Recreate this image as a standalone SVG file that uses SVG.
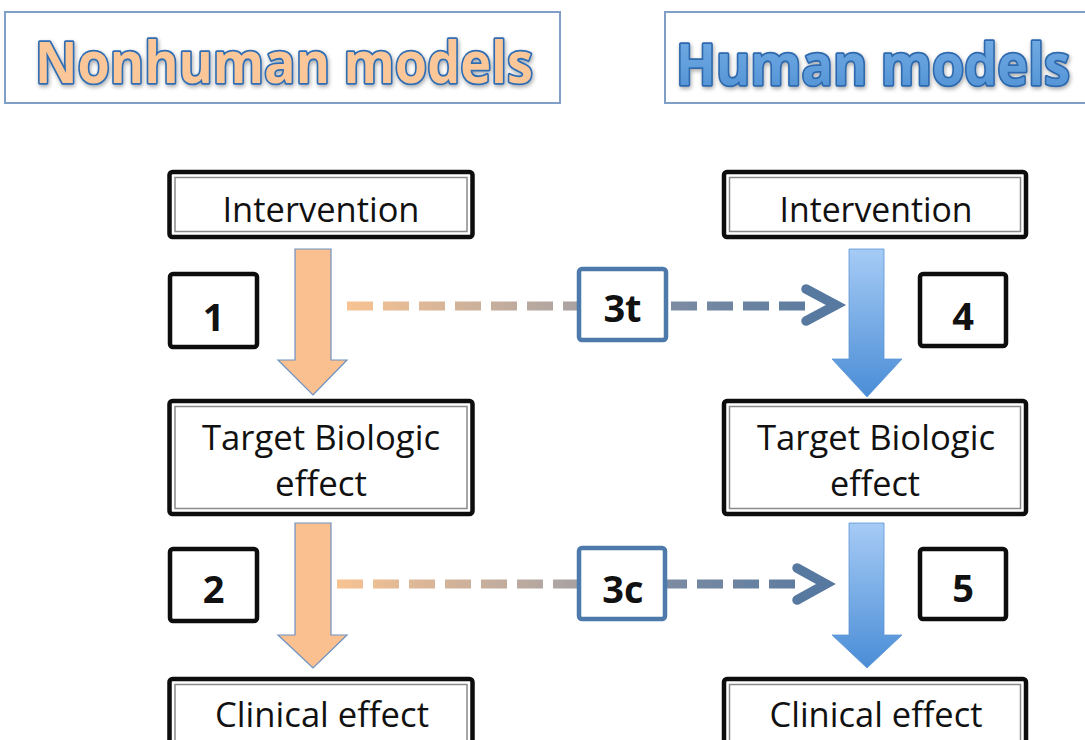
<svg xmlns="http://www.w3.org/2000/svg" width="1085" height="740" viewBox="0 0 1085 740">
  <style>
    .title-box { fill: #ffffff; stroke: #7f9fc8; stroke-width: 2; }
    .title { font-family: "Open Sans", "Liberation Sans", sans-serif; font-weight: 700; font-size: 57px; stroke-width: 3.6; paint-order: stroke; stroke-linejoin: round; }
    .node-outer { fill: #ffffff; stroke: #0d0d0d; stroke-width: 4.5; }
    .node-inner { fill: none; stroke: #8a8a8a; stroke-width: 1.5; }
    .label { font-family: "Open Sans", "Liberation Sans", sans-serif; font-size: 34px; fill: #111111; text-anchor: middle; }
    .num-box { fill: #ffffff; stroke: #0d0d0d; stroke-width: 4.5; }
    .num { font-family: "Open Sans", "Liberation Sans", sans-serif; font-weight: 700; font-size: 38px; fill: #111111; text-anchor: middle; }
    .link-box { fill: #ffffff; stroke: #4d79ab; stroke-width: 4.5; }
    .arrow-nh { fill: #fac090; stroke: #6d91c2; stroke-width: 1.2; }
    .arrow-h { fill: url(#blueShaft); stroke: #5d95d6; stroke-width: 0.8; }
    .dash { fill: none; stroke-width: 9; stroke-dasharray: 26 10; }
    .chevron { fill: none; stroke: #57799f; stroke-width: 9.5; stroke-linecap: round; stroke-linejoin: miter; }
  </style>
  <defs>
    <linearGradient id="blueShaft" x1="0" y1="0" x2="0" y2="1">
      <stop offset="0" stop-color="#a6cbf5"/>
      <stop offset="1" stop-color="#4a8dd6"/>
    </linearGradient>
    <linearGradient id="humanFill" x1="0" y1="0" x2="0" y2="1">
      <stop offset="0" stop-color="#79b0e6"/>
      <stop offset="1" stop-color="#4d8fd3"/>
    </linearGradient>
    <linearGradient id="dashTop" gradientUnits="userSpaceOnUse" x1="347" y1="0" x2="830" y2="0">
      <stop offset="0" stop-color="#f8c392"/>
      <stop offset="0.48" stop-color="#a9a2a2"/>
      <stop offset="0.68" stop-color="#7b8ba2"/>
      <stop offset="1" stop-color="#58799f"/>
    </linearGradient>
    <linearGradient id="dashBottom" gradientUnits="userSpaceOnUse" x1="337" y1="0" x2="825" y2="0">
      <stop offset="0" stop-color="#f8c392"/>
      <stop offset="0.49" stop-color="#a9a2a2"/>
      <stop offset="0.68" stop-color="#7b8ba2"/>
      <stop offset="1" stop-color="#58799f"/>
    </linearGradient>
    <filter id="soft" x="-5%" y="-20%" width="110%" height="140%">
      <feGaussianBlur in="SourceAlpha" stdDeviation="2"/>
      <feOffset dx="1" dy="2" result="b"/>
      <feComponentTransfer><feFuncA type="linear" slope="0.35"/></feComponentTransfer>
      <feMerge><feMergeNode/><feMergeNode in="SourceGraphic"/></feMerge>
    </filter>
  </defs>

  <!-- column headings -->
  <g id="nonhuman-heading">
    <rect class="title-box" x="5" y="12" width="555" height="91"/>
    <text class="title" x="35" y="83" textLength="498" lengthAdjust="spacingAndGlyphs" fill="#fbc798" stroke="#2f6db3" filter="url(#soft)">Nonhuman models</text>
  </g>
  <g id="human-heading">
    <rect class="title-box" x="665" y="12" width="430" height="91"/>
    <text class="title" x="676" y="85" textLength="394" lengthAdjust="spacingAndGlyphs" fill="url(#humanFill)" stroke="#2e69ad" filter="url(#soft)">Human models</text>
  </g>

  <!-- cross-model translation links -->
  <g id="connectors">
    <line class="dash" x1="347" y1="306" x2="808" y2="306" stroke="url(#dashTop)"/>
    <polyline class="chevron" points="806,289 836,305 806,321"/>
    <line class="dash" x1="337" y1="584" x2="800" y2="584" stroke="url(#dashBottom)"/>
    <polyline class="chevron" points="797,568 826,584 797,600"/>

    <!-- nonhuman pathway arrows -->
    <polygon class="arrow-nh" points="295,249 331,249 331,360 347,360 313,395 278,360 295,360"/>
    <polygon class="arrow-nh" points="295,523 331,523 331,635 347,635 313,668 278,635 295,635"/>
    <!-- human pathway arrows -->
    <polygon class="arrow-h" points="849,249 884,249 884,359 902,359 867,397 832,359 849,359"/>
    <polygon class="arrow-h" points="849,523 884,523 884,635 902,635 867,668 832,635 849,635"/>
  </g>

  <!-- nonhuman column -->
  <g id="nh-intervention">
    <rect class="node-outer" x="169.5" y="172" width="303" height="65" rx="3"/>
    <rect class="node-inner" x="175" y="177.5" width="292" height="54"/>
    <text class="label" x="321" y="222" textLength="197" lengthAdjust="spacingAndGlyphs">Intervention</text>
  </g>
  <g id="nh-target">
    <rect class="node-outer" x="169.5" y="401" width="303" height="113" rx="3"/>
    <rect class="node-inner" x="175" y="406.5" width="292" height="102"/>
    <text class="label" x="321" y="450" textLength="238" lengthAdjust="spacingAndGlyphs">Target Biologic</text>
    <text class="label" x="321" y="496" textLength="92" lengthAdjust="spacingAndGlyphs">effect</text>
  </g>
  <g id="nh-clinical">
    <rect class="node-outer" x="169.5" y="679" width="303" height="80" rx="3"/>
    <rect class="node-inner" x="175" y="684.5" width="292" height="70"/>
    <text class="label" x="322" y="727" textLength="214" lengthAdjust="spacingAndGlyphs">Clinical effect</text>
  </g>
  <g id="step-1">
    <rect class="num-box" x="170" y="274" width="87" height="73" rx="3"/>
    <text class="num" x="213.5" y="331">1</text>
  </g>
  <g id="step-2">
    <rect class="num-box" x="170" y="549" width="87" height="72" rx="3"/>
    <text class="num" x="213.5" y="603">2</text>
  </g>

  <!-- translation checkpoints -->
  <g id="step-3t">
    <rect class="link-box" x="579" y="269" width="87" height="71" rx="3"/>
    <text class="num" x="622.5" y="322">3t</text>
  </g>
  <g id="step-3c">
    <rect class="link-box" x="579" y="548" width="86" height="71" rx="3"/>
    <text class="num" x="623" y="603">3c</text>
  </g>

  <!-- human column -->
  <g id="h-intervention">
    <rect class="node-outer" x="724" y="172" width="302" height="65" rx="3"/>
    <rect class="node-inner" x="729.5" y="177.5" width="291" height="54"/>
    <text class="label" x="876" y="222" textLength="193" lengthAdjust="spacingAndGlyphs">Intervention</text>
  </g>
  <g id="h-target">
    <rect class="node-outer" x="724" y="401" width="302" height="113" rx="3"/>
    <rect class="node-inner" x="729.5" y="406.5" width="291" height="102"/>
    <text class="label" x="876" y="450" textLength="238" lengthAdjust="spacingAndGlyphs">Target Biologic</text>
    <text class="label" x="875" y="496" textLength="90" lengthAdjust="spacingAndGlyphs">effect</text>
  </g>
  <g id="h-clinical">
    <rect class="node-outer" x="724" y="679" width="302" height="80" rx="3"/>
    <rect class="node-inner" x="729.5" y="684.5" width="291" height="70"/>
    <text class="label" x="876" y="727" textLength="213" lengthAdjust="spacingAndGlyphs">Clinical effect</text>
  </g>
  <g id="step-4">
    <rect class="num-box" x="920" y="274" width="86" height="72" rx="3"/>
    <text class="num" x="963" y="330">4</text>
  </g>
  <g id="step-5">
    <rect class="num-box" x="920" y="549" width="86" height="70" rx="3"/>
    <text class="num" x="963" y="602">5</text>
  </g>
</svg>
